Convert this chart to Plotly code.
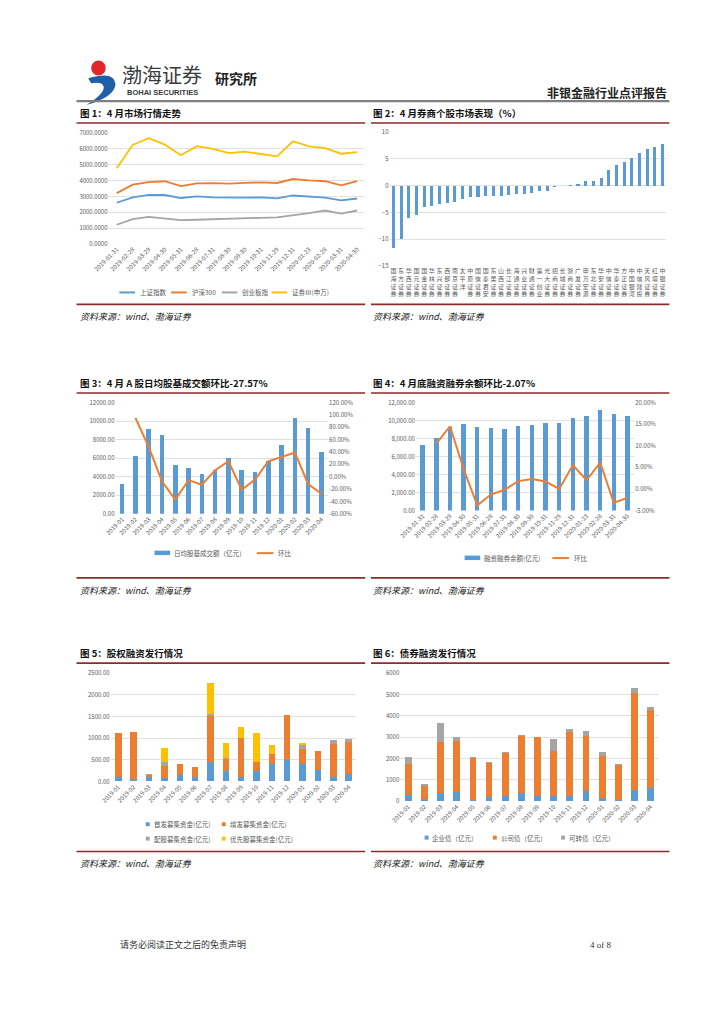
import plotly.graph_objects as go

W, H = 724, 1024
FONT = "Noto Sans CJK SC"
TICK_C = "#595959"
GRID_C = "#D9D9D9"
BLUE, ORANGE, GRAY, YELLOW = "#5B9BD5", "#ED7D31", "#A5A5A5", "#FFC000"
RED_LINE = "#8E2A2A"

# ---------------- data ----------------
dates1 = ["2019-01-31", "2019-02-28", "2019-03-29", "2019-04-30", "2019-05-31", "2019-06-28",
          "2019-07-31", "2019-08-30", "2019-09-30", "2019-10-31", "2019-11-29", "2019-12-31",
          "2020-01-23", "2020-02-28", "2020-03-31", "2020-04-30"]
sh_index = [2600, 2940, 3100, 3090, 2900, 3000, 2940, 2910, 2920, 2940, 2880, 3060, 2980, 2920, 2750, 2870]
hs300 = [3210, 3740, 3900, 3960, 3650, 3830, 3840, 3810, 3860, 3890, 3850, 4100, 4010, 3960, 3700, 3960]
cyb = [1210, 1560, 1710, 1610, 1500, 1525, 1565, 1610, 1630, 1650, 1670, 1795, 1940, 2110, 1920, 2110]
sec3 = [4780, 6260, 6680, 6280, 5600, 6180, 6010, 5740, 5830, 5680, 5530, 6490, 6160, 6050, 5700, 5800]

brokers = ["国海证券", "东方证券", "华西证券", "国元证券", "国金证券", "华林证券", "东兴证券", "西部证券",
           "南京证券", "太平洋", "中原证券", "国信证券", "国泰君安", "东吴证券", "山西证券", "长江证券",
           "海通证券", "兴业证券", "财通证券", "第一创业", "光大证券", "招商证券", "长城证券", "浙商证券",
           "广发证券", "申万宏源", "东北证券", "华安证券", "中信证券", "华泰证券", "方正证券", "中国银河",
           "中信建投", "天风证券", "红塔证券", "中银证券"]
broker_chg = [-11.6, -9.9, -6.0, -5.5, -3.9, -3.7, -3.5, -3.3, -3.0, -2.5, -2.2, -2.1,
              -2.0, -1.9, -1.9, -1.8, -1.6, -1.5, -1.3, -1.0, -0.9, -0.3, 0.02, 0.1,
              0.3, 0.9, 0.9, 1.5, 3.0, 3.8, 4.5, 5.2, 6.1, 6.9, 7.2, 7.8]

months = ["2019-01", "2019-02", "2019-03", "2019-04", "2019-05", "2019-06", "2019-07", "2019-08",
          "2019-09", "2019-10", "2019-11", "2019-12", "2020-01", "2020-02", "2020-03", "2020-04"]
turnover = [3200, 6230, 9180, 8470, 5230, 4950, 4310, 4700, 6000, 4700, 4480, 5700, 7400, 10330, 9230, 6650]
turnover_mom = [None, 95, 48, -8, -37, -5.5, -13, 10.5, 25, -21, -4.5, 25, 32, 39, -12, -27.57]

margin_bal = [7300, 8030, 9240, 9650, 9240, 9160, 9090, 9350, 9500, 9680, 9680, 10230, 10490, 11110, 10710, 10490]
margin_mom = [None, 10.5, 14.5, 4.6, -3.8, -1.3, -0.2, 1.8, 2.3, 1.7, 0.0, 5.5, 2.0, 6.1, -3.2, -2.07]

ipo = [107, 30, 92, 84, 145, 100, 451, 237, 100, 230, 398, 497, 405, 268, 100, 176]
seo = [1020, 1125, 61, 276, 260, 230, 1070, 283, 900, 213, 236, 1040, 337, 428, 764, 734]
rights = [0, 0, 15, 91, 8, 0, 31, 30, 0, 0, 0, 0, 99, 0, 84, 69]
pref = [0, 0, 0, 314, 0, 0, 734, 330, 270, 681, 199, 0, 46, 0, 0, 0]

ent_bond = [295, 93, 372, 450, 78, 202, 248, 372, 264, 248, 264, 496, 170, 78, 543, 636]
corp_bond = [1472, 605, 2403, 2356, 1969, 1596, 2000, 2698, 2728, 2093, 2976, 2558, 1970, 1627, 4558, 3628]
conv_bond = [295, 108, 899, 217, 31, 62, 47, 46, 16, 558, 171, 264, 170, 47, 201, 170]


def px(x):
    return x / W


def py(y):
    return 1 - y / H


def dom_x(a, b):
    return [a / W, b / W]


def dom_y(top, bottom):
    return [1 - bottom / H, 1 - top / H]


fig = go.Figure()
shapes = []
ann = []


def text(x, y, s, size=7, color=TICK_C, anchor="left", bold=False, family=FONT, yanchor="middle"):
    if bold:
        s = "<b>" + s + "</b>"
    ann.append(dict(x=px(x), y=py(y), xref="paper", yref="paper", text=s, showarrow=False,
                    xanchor=anchor, yanchor=yanchor, font=dict(family=family, size=size, color=color)))


def hline(x0, x1, y, color, width):
    shapes.append(dict(type="line", xref="paper", yref="paper", x0=px(x0), x1=px(x1), y0=py(y), y1=py(y),
                       line=dict(color=color, width=width)))


def rect(x0, y0, x1, y1, color):
    shapes.append(dict(type="rect", xref="paper", yref="paper", x0=px(x0), x1=px(x1), y0=py(y0), y1=py(y1),
                       fillcolor=color, line=dict(width=0)))


def leg_line(x, y, color, label):
    hline(x, x + 16, y, color, 2)
    text(x + 19, y, label, size=6.5)


def leg_box(x, y, color, label, w=4, h=4):
    rect(x, y - h / 2, x + w, y + h / 2, color)
    text(x + w + 2, y, label, size=6.5)


# ---------------- header ----------------
def ppath(points):
    return " ".join(s if isinstance(s, str) else f"{px(s[0]):.5f},{py(s[1]):.5f}" for s in points)


shapes.append(dict(type="path", xref="paper", yref="paper",
                   path="M " + ppath([(72, 74), "Q", (99, 66), (100, 80), "Q", (99, 93), (70, 101),
                                      "Q", (88, 90), (88, 83), "Q", (87, 77), (75, 79)]) + " Z",
                   fillcolor="#1F5FA8", line=dict(width=0)))
shapes.append(dict(type="circle", xref="paper", yref="paper", x0=px(75), x1=px(90), y0=py(56), y1=py(71),
                   fillcolor="#E3262B", line=dict(width=0)))
text(148, 70, "渤海证券", size=20, color="#3A3A3A", anchor="center")
text(148, 88, "<b>BOHAI SECURITIES</b>", size=7.5, color="#3A3A3A", family="Liberation Sans", anchor="center")
text(224, 74, "研究所", size=14, color="#222222", bold=True, anchor="center")
text(668, 88, "非银金融行业点评报告", size=12, color="#222222", bold=True, anchor="right")
hline(60, 668, 97, "#7F7F7F", 2.2)

# ---------------- section frames ----------------
titles = [
    (62, 109, "图 1：4 月市场行情走势"),
    (362, 109, "图 2：4 月券商个股市场表现（%）"),
    (62, 381, "图 3：4 月 A 股日均股基成交额环比-27.57%"),
    (362, 381, "图 4：4 月底融资融券余额环比-2.07%"),
    (62, 654, "图 5：股权融资发行情况"),
    (362, 654, "图 6：债券融资发行情况"),
]
for x, y, s in titles:
    text(x, y, s, size=9.5, color="#111111", bold=True)
for y in (119, 391.5, 664):
    hline(60, 356, y, RED_LINE, 1.6)
    hline(362, 668, y, RED_LINE, 1.6)
for y, ys in ((302, 314), (578, 591), (854, 866)):
    hline(60, 356, y, RED_LINE, 1.6)
    hline(362, 668, y, RED_LINE, 1.6)
    text(62, ys, "<i>资料来源：wind、渤海证券</i>", size=9, color="#222222")
    text(362, ys, "<i>资料来源：wind、渤海证券</i>", size=9, color="#222222")

# footer
text(103, 948, "请务必阅读正文之后的免责声明", size=9, color="#333333")
text(610, 948, "4 of 8", size=9, color="#333333", anchor="right", family="Liberation Serif")

tickfont = dict(family=FONT, size=6, color=TICK_C)


def yax(domain, rng, dtick, fmt=None, tickvals=None, ticktext=None, anchor="x", side="left", overlaying=None, grid=True):
    d = dict(domain=domain, range=rng, anchor=anchor, side=side, showgrid=grid, gridcolor=GRID_C, gridwidth=0.8,
             zeroline=False, showline=False, ticks="", tickfont=tickfont, fixedrange=True)
    if tickvals is not None:
        d.update(tickmode="array", tickvals=tickvals, ticktext=ticktext)
    else:
        d.update(dtick=dtick, tick0=0, tickformat=fmt)
    if overlaying:
        d["overlaying"] = overlaying
    return d


def xax(domain, anchor, angle=-45, n=16, font=None):
    return dict(domain=domain, anchor=anchor, type="category", range=[-0.5, n - 0.5], tickangle=angle,
                showgrid=False, zeroline=False, showline=False, ticks="", tickfont=font or tickfont,
                fixedrange=True)


# ---------------- chart 1 ----------------
for vals, col in ((sh_index, BLUE), (hs300, ORANGE), (cyb, GRAY), (sec3, YELLOW)):
    fig.add_trace(go.Scatter(x=dates1, y=vals, mode="lines", line=dict(color=col, width=1.8),
                             xaxis="x", yaxis="y", showlegend=False))
leg_line(104, 290, BLUE, "上证指数")
leg_line(157, 290, ORANGE, "沪深300")
leg_line(209, 290, GRAY, "创业板指")
leg_line(260, 290, YELLOW, "证券Ⅲ(申万)")

# ---------------- chart 2 ----------------
broker_labels = ["<br>".join(n) for n in brokers]
fig.add_trace(go.Bar(x=broker_labels, y=broker_chg, marker=dict(color=BLUE, line=dict(width=0)), width=0.4,
                     xaxis="x2", yaxis="y2", showlegend=False))

# ---------------- chart 3 ----------------
fig.add_trace(go.Bar(x=months, y=turnover, marker=dict(color=BLUE, line=dict(width=0)), width=0.34,
                     xaxis="x3", yaxis="y3", showlegend=False))
fig.add_trace(go.Scatter(x=months, y=turnover_mom, mode="lines", line=dict(color=ORANGE, width=2),
                         xaxis="x3", yaxis="y4", showlegend=False))
rect(140, 550.5, 156, 555, BLUE)
text(158, 553, "日均股基成交额（亿元）", size=6.5)
hline(245, 262, 553, ORANGE, 2)
text(265, 553, "环比", size=6.5)

# ---------------- chart 4 ----------------
fig.add_trace(go.Bar(x=dates1, y=margin_bal, marker=dict(color=BLUE, line=dict(width=0)), width=0.32,
                     xaxis="x4", yaxis="y5", showlegend=False))
fig.add_trace(go.Scatter(x=dates1, y=margin_mom, mode="lines", line=dict(color=ORANGE, width=2),
                         xaxis="x4", yaxis="y6", showlegend=False))
rect(458, 555.5, 474, 560, BLUE)
text(476, 558, "融资融券余额(亿元)", size=6.5)
hline(548, 565, 558, ORANGE, 2)
text(568, 558, "环比", size=6.5)

# ---------------- chart 5 ----------------
for vals, col in ((ipo, BLUE), (seo, ORANGE), (rights, GRAY), (pref, YELLOW)):
    fig.add_trace(go.Bar(x=months, y=vals, marker=dict(color=col, line=dict(width=0)), width=0.42,
                         xaxis="x5", yaxis="y7", showlegend=False))
leg_box(131, 826.5, BLUE, "首发募集资金(亿元)")
leg_box(209, 826.5, ORANGE, "增发募集资金(亿元)")
leg_box(131, 841, GRAY, "配股募集资金(亿元)")
leg_box(209, 841, YELLOW, "优先股募集资金(亿元)")

# ---------------- chart 6 ----------------
for vals, col in ((ent_bond, BLUE), (corp_bond, ORANGE), (conv_bond, GRAY)):
    fig.add_trace(go.Bar(x=months, y=vals, marker=dict(color=col, line=dict(width=0)), width=0.42,
                         xaxis="x6", yaxis="y8", showlegend=False))
leg_box(417, 840, BLUE, "企业债（亿元）")
leg_box(487, 840, ORANGE, "公司债（亿元）")
leg_box(557, 840, GRAY, "可转债（亿元）")

pct3 = list(range(-60, 121, 20))
pct4 = list(range(-5, 21, 5))

fig.update_layout(
    width=W, height=H, autosize=False, margin=dict(l=0, r=0, t=0, b=0),
    paper_bgcolor="white", plot_bgcolor="white", barmode="stack", bargap=0.5,
    font=dict(family=FONT, size=7, color=TICK_C), showlegend=False,
    xaxis=xax(dom_x(93, 356), "y"),
    yaxis=yax(dom_y(129.3, 241), [0, 7000], 1000, ".4f", anchor="x"),
    xaxis2=xax(dom_x(381, 665), "y2", angle=0, n=36, font=dict(family=FONT, size=6, color=TICK_C)),
    yaxis2=yax(dom_y(128.3, 263.3), [-15, 10], 5, "d", anchor="x2"),
    xaxis3=xax(dom_x(100, 318), "y3"),
    yaxis3=yax(dom_y(401, 513.3), [0, 12000], 2000, ".2f", anchor="x3"),
    yaxis4=yax(dom_y(401, 513.3), [-60, 120], None, tickvals=pct3, ticktext=[f"{v:.2f}%" for v in pct3],
               anchor="x3", side="right", overlaying="y3", grid=False),
    xaxis4=xax(dom_x(408, 632), "y5"),
    yaxis5=yax(dom_y(401, 510), [0, 12000], 2000, ",.2f", anchor="x4"),
    yaxis6=yax(dom_y(401, 510), [-5, 20], None, tickvals=pct4, ticktext=[f"{v:.2f}%" for v in pct4],
               anchor="x4", side="right", overlaying="y5", grid=False),
    xaxis5=xax(dom_x(95, 347), "y7"),
    yaxis7=yax(dom_y(674.3, 783.3), [0, 2500], 500, ".2f", anchor="x5"),
    xaxis6=xax(dom_x(392, 657), "y8"),
    yaxis8=yax(dom_y(674.3, 803.3), [0, 6000], 1000, "d", anchor="x6"),
    shapes=shapes, annotations=ann,
)

fig.write_html("out.html", config={"displayModeBar": False, "staticPlot": True},
               post_script="document.body.style.margin='0';")
